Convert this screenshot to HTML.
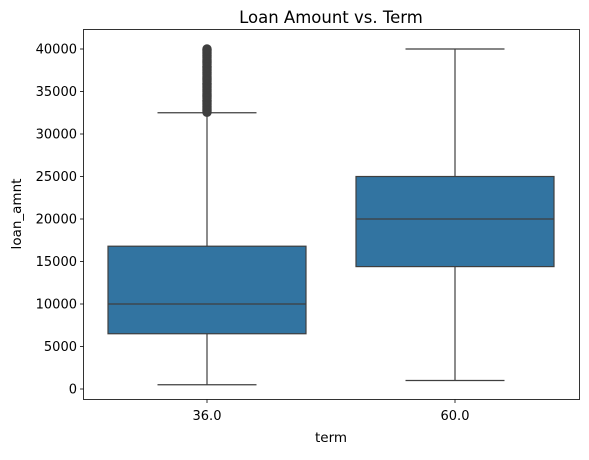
<!DOCTYPE html>
<html><head><meta charset="utf-8"><style>
body{margin:0;background:#fff;}
svg text{font-family:"DejaVu Sans","Liberation Sans",sans-serif;fill:#000;}
</style></head><body>
<svg id="chart" width="589" height="455" xmlns="http://www.w3.org/2000/svg">
<rect x="0" y="0" width="589" height="455" fill="#fff"/>
<g id="marks"></g>
<rect x="83.5" y="29.5" width="496" height="370" fill="none" stroke="#000" stroke-width="0.8"/>
<text x="331" y="23" font-size="16.5" text-anchor="middle">Loan Amount vs. Term</text>
<text x="331" y="442" font-size="13.5" text-anchor="middle">term</text>
<text x="0" y="0" font-size="13.5" text-anchor="middle" transform="translate(21,214) rotate(-90)">loan_amnt</text>
<g id="axes"></g>
</svg>
<script>
const categories = ["36.0", "60.0"];
const q1 = [6500, 14400];
const medians = [10000, 20000];
const q3 = [16800, 25000];
const whiskerLow = [500, 1000];
const whiskerHigh = [32500, 40000];
const outliers36 = [32550,32700,32850,33000,33150,33300,33450,33600,33750,33900,34000,34200,34350,34500,34650,34800,35000,35150,35300,35450,35600,35750,35900,36000,36200,36350,36500,36650,36800,37000,37150,37300,37450,37600,37750,37900,38000,38200,38350,38500,38650,38800,39000,39150,39300,39450,39600,39750,39900,40000];
const yTicks = [0,5000,10000,15000,20000,25000,30000,35000,40000];

const NS = "http://www.w3.org/2000/svg";
const y = v => 389 - v * 340 / 40000;
const xC = i => 207 + i * 248;
const halfW = 99;
const marks = document.getElementById('marks');
const axes = document.getElementById('axes');
function mk(tag, attrs, parent){const e=document.createElementNS(NS,tag);for(const k in attrs)e.setAttribute(k,attrs[k]);parent.appendChild(e);return e;}

categories.forEach((c,i)=>{
  const cx = xC(i);
  const w1 = mk('line',{x1:cx,x2:cx,y1:y(whiskerLow[i]),y2:y(q1[i]),stroke:'#3f3f3f','stroke-width':1.2},marks);
  
  
  const w2 = mk('line',{x1:cx,x2:cx,y1:y(q3[i]),y2:y(whiskerHigh[i]),stroke:'#3f3f3f','stroke-width':1.2},marks);
  
  
  const c1 = mk('line',{x1:cx-halfW/2,x2:cx+halfW/2,y1:y(whiskerLow[i]),y2:y(whiskerLow[i]),stroke:'#3f3f3f','stroke-width':1.2},marks);
  
  
  const c2 = mk('line',{x1:cx-halfW/2,x2:cx+halfW/2,y1:y(whiskerHigh[i]),y2:y(whiskerHigh[i]),stroke:'#3f3f3f','stroke-width':1.2},marks);
  
  
  const b = mk('rect',{x:cx-halfW,y:y(q3[i]),width:2*halfW,height:y(q1[i])-y(q3[i]),fill:'#3274a1',stroke:'#3f3f3f','stroke-width':1.2},marks);
  
  
  const m = mk('line',{x1:cx-halfW,x2:cx+halfW,y1:y(medians[i]),y2:y(medians[i]),stroke:'#3f3f3f','stroke-width':1.2},marks);
  
  
  const t = mk('line',{x1:cx,x2:cx,y1:399.5,y2:403,stroke:'#000','stroke-width':0.8},axes);
  
  
  const l = mk('text',{x:cx,y:420,'font-size':13,'text-anchor':'middle'},axes);
  l.textContent = c;
  
  
});
outliers36.forEach(v=>{
  const o = mk('circle',{cx:xC(0),cy:y(v),r:4.2,fill:'#3f3f3f',stroke:'#3f3f3f'},marks);
  
  
});
yTicks.forEach(v=>{
  const t = mk('line',{x1:80,x2:83.5,y1:y(v),y2:y(v),stroke:'#000','stroke-width':0.8},axes);
  
  
  const l = mk('text',{x:77,y:y(v)+4.5,'font-size':13,'text-anchor':'end'},axes);
  l.textContent = v;
  
  
});
</script>
</body></html>
